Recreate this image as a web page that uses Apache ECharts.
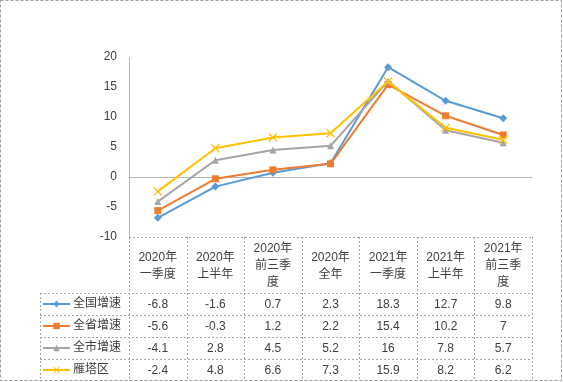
<!DOCTYPE html>
<html>
<head>
<meta charset="utf-8">
<script src="https://cdn.jsdelivr.net/npm/echarts@6/dist/echarts.min.js"></script>
<style>
  html, body { margin: 0; padding: 0; background: #fff; }
  #main { width: 563px; height: 382px; }
</style>
</head>
<body>
<div id="main"></div>
<script>
// categories (table header) and the four series
const categories = ['2020年\n一季度', '2020年\n上半年', '2020年\n前三季\n度', '2020年\n全年',
  '2021年\n一季度', '2021年\n上半年', '2021年\n前三季\n度'];
const seriesNames = ['全国增速', '全省增速', '全市增速', '雁塔区'];
const national = [-6.8, -1.6, 0.7, 2.3, 18.3, 12.7, 9.8];
const province = [-5.6, -0.3, 1.2, 2.2, 15.4, 10.2, 7];
const city = [-4.1, 2.8, 4.5, 5.2, 16, 7.8, 5.7];
const yanta = [-2.4, 4.8, 6.6, 7.3, 15.9, 8.2, 6.2];
const yMin = -10, yMax = 20, yStep = 5;

const FONT = "'Liberation Sans', 'Noto Sans CJK SC', sans-serif";
const TXT = '#404040';
const GRIDC = '#a6a6a6';
const xMark = 'path://M0,1L1,0L5,4L9,0L10,1L6,5L10,9L9,10L5,6L1,10L0,9L4,5Z';

const allData = [national, province, city, yanta];
const colors = ['#5B9BD5', '#ED7D31', '#A5A5A5', '#FFC000'];
const symbols = ['diamond', 'rect', 'triangle', xMark];
const symbolSizes = [8, 7, 7, 9];

const HEAD_BOTTOM = 293;
const ROW_H = 22;

const chart = echarts.init(document.getElementById('main'), null, { renderer: 'canvas' });

var option = {
  backgroundColor: '#fff',
  animation: false,
  textStyle: { fontFamily: FONT },
  grid: { left: 129, right: 31, top: 57, bottom: 145, containLabel: false },
  // one legend per table row
  legend: seriesNames.map(function (name, r) {
    return {
      orient: 'vertical',
      left: 42,
      top: HEAD_BOTTOM + r * ROW_H + 4,
      padding: 0,
      itemWidth: 27,
      itemHeight: 8,
      textStyle: { fontSize: 12, lineHeight: 14, color: TXT, fontFamily: FONT, padding: [0, 0, 0, -2] },
      data: [name]
    };
  }),
  xAxis: {
    type: 'category',
    data: categories,
    boundaryGap: true,
    axisLine: { show: true, onZero: true, lineStyle: { color: GRIDC, type: 'dotted', width: 1 } },
    axisTick: { show: false },
    axisLabel: { show: false },
    splitLine: { show: false }
  },
  yAxis: {
    type: 'value',
    min: yMin,
    max: yMax,
    interval: yStep,
    axisLine: { show: true, lineStyle: { color: GRIDC, type: 'dotted', width: 1 } },
    axisTick: { show: false },
    splitLine: { show: false },
    axisLabel: { fontSize: 12, color: TXT, margin: 12, fontFamily: FONT }
  },
  series: seriesNames.map(function (name, i) {
    return {
      name: name,
      type: 'line',
      data: allData[i],
      symbol: symbols[i],
      symbolSize: symbolSizes[i],
      showAllSymbol: true,
      color: colors[i],
      lineStyle: { width: 2, color: colors[i] },
      itemStyle: { color: colors[i] },
      z: 2 + i
    };
  })
};

chart.setOption(option);

// data table under the plot, positioned from the category axis
function buildTable() {
  const xs = categories.map(function (c, i) { return chart.convertToPixel({ xAxisIndex: 0 }, i); });
  const colW = xs[1] - xs[0];
  const left = xs[0] - colW / 2;
  const right = xs[xs.length - 1] + colW / 2;
  const top = chart.convertToPixel({ yAxisIndex: 0 }, yMin);
  const bottom = HEAD_BOTTOM + ROW_H * seriesNames.length;
  const legLeft = 40;
  const els = [];
  const lineStyle = { stroke: GRIDC, lineWidth: 1, lineDash: [2, 2] };

  function hline(x1, x2, y) {
    els.push({ type: 'line', silent: true, shape: { x1: x1, y1: y + 0.5, x2: x2, y2: y + 0.5 }, style: lineStyle });
  }
  function vline(x, y1, y2) {
    els.push({ type: 'line', silent: true, shape: { x1: x + 0.5, y1: y1, x2: x + 0.5, y2: y2 }, style: lineStyle });
  }

  // grid lines of table
  hline(left, right, Math.round(top));
  for (let r = 0; r < seriesNames.length; r++) hline(legLeft, right, HEAD_BOTTOM + r * ROW_H);
  vline(Math.round(left), top, bottom);
  vline(legLeft, HEAD_BOTTOM, bottom);
  for (let c = 1; c <= categories.length; c++) vline(Math.round(left + c * colW), top, bottom);

  // header
  categories.forEach(function (cat, i) {
    els.push({
      type: 'text', silent: true,
      x: xs[i], y: (top + HEAD_BOTTOM) / 2 + 1,
      style: { text: cat, fontSize: 12, lineHeight: 17, fill: TXT, fontFamily: FONT, align: 'center', verticalAlign: 'middle' }
    });
  });
  // values
  allData.forEach(function (arr, r) {
    arr.forEach(function (v, i) {
      els.push({
        type: 'text', silent: true,
        x: xs[i], y: HEAD_BOTTOM + r * ROW_H + ROW_H / 2 + 1,
        style: { text: String(v), fontSize: 12, fill: TXT, fontFamily: FONT, align: 'center', verticalAlign: 'middle' }
      });
    });
  });
  // outer dashed border
  els.push({
    type: 'rect', silent: true,
    shape: { x: 0.5, y: 0.5, width: 561, height: 380 },
    style: { fill: 'none', stroke: '#a0a0a0', lineWidth: 1, lineDash: [3, 2] }
  });

  chart.setOption({ graphic: { elements: els } });
}

buildTable();
</script>
</body>
</html>
